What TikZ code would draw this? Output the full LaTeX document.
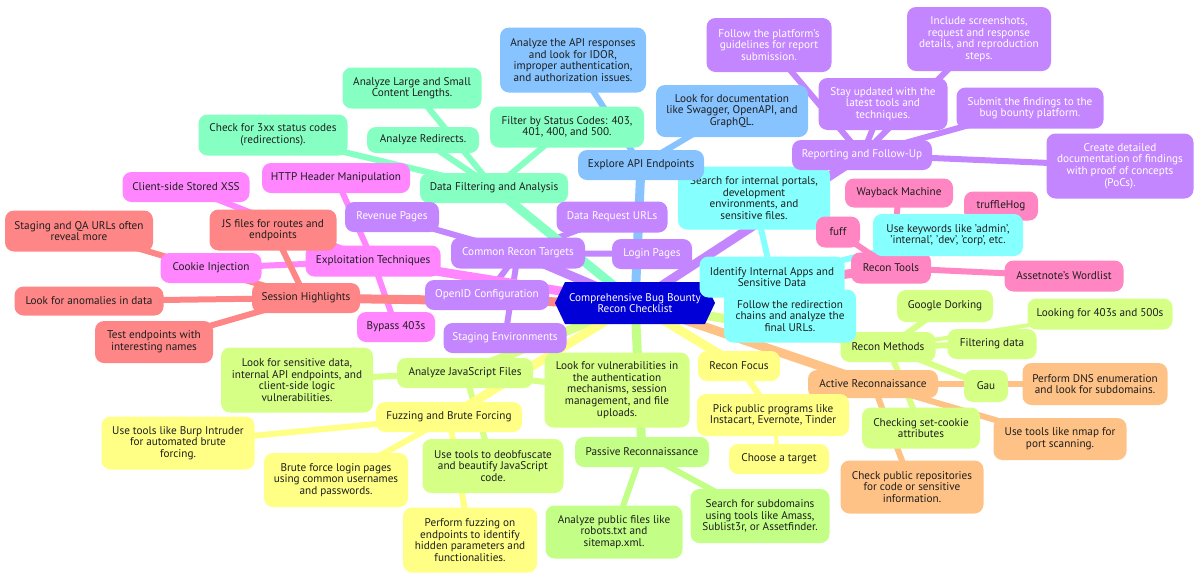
\documentclass[tikz,border=0pt]{standalone}
\usepackage{fontspec}
\setmainfont{PT Sans}
\usetikzlibrary{backgrounds}
\definecolor{cyel}{RGB}{255,255,134}
\definecolor{cyg}{RGB}{214,255,134}
\definecolor{cpur}{RGB}{195,134,255}
\definecolor{cmag}{RGB}{255,134,255}
\definecolor{cpink}{RGB}{255,134,195}
\definecolor{csal}{RGB}{255,134,134}
\definecolor{cora}{RGB}{255,194,134}
\definecolor{cgrn}{RGB}{195,255,134}
\definecolor{cmint}{RGB}{134,255,195}
\definecolor{ccyan}{RGB}{134,255,255}
\definecolor{cblue}{RGB}{134,195,255}
\definecolor{croot}{RGB}{0,0,215}
\definecolor{ctext}{RGB}{30,30,30}
\tikzset{
  box/.style={rounded corners=9pt, fill=#1, text=ctext, align=center, inner sep=2pt,
    font=\fontsize{11.2}{11.6}\selectfont},
  wbox/.style={box=#1, text=white},
  ezero/.style={draw=#1, line width=9pt},
  eone/.style={draw=#1, line width=6pt},
  etwo/.style={draw=#1, line width=4pt},
}
\begin{document}
\begin{tikzpicture}[x=1pt,y=-1pt]
\useasboundingbox (0,0) rectangle (1200,582);
% root
\fill[croot] (555,303) -- (565,282) -- (705,282) -- (715,303) -- (705,324) -- (565,324) -- cycle;
\node[text=white, align=center, font=\fontsize{11.2}{11.6}\selectfont] (root) at (635,303) {Comprehensive Bug Bounty\\Recon Checklist};

% Data filtering (mint)
\node[box=cmint, minimum width=148pt, minimum height=30pt] (df) at (494,188) {Data Filtering and Analysis};
\node[box=cmint, minimum width=139pt, minimum height=41pt] (df1) at (412,88) {Analyze Large and Small\\Content Lengths.};
\node[box=cmint, minimum width=112pt, minimum height=26pt] (df2) at (423,140) {Analyze Redirects.};
\node[box=cmint, minimum width=154pt, minimum height=41pt] (df3) at (567,127) {Filter by Status Codes: 403,\\401, 400, and 500.};
\node[box=cmint, minimum width=149pt, minimum height=41pt] (df4) at (273,135) {Check for 3xx status codes\\(redirections).};

% Identify internal apps (cyan) part 1
\node[box=ccyan, minimum width=152pt, minimum height=63pt] (ia1) at (754,198) {Search for internal portals,\\development\\environments, and\\sensitive files.};

% Explore API (blue)
\node[box=cblue, minimum width=126pt, minimum height=30pt] (api) at (641,165) {Explore API Endpoints};
\node[box=cblue, minimum width=146pt, minimum height=65pt] (api1) at (573,60) {Analyze the API responses\\and look for IDOR,\\improper authentication,\\and authorization issues.};
\node[box=cblue, minimum width=152pt, minimum height=52pt] (api2) at (732,111) {Look for documentation\\like Swagger, OpenAPI, and\\GraphQL.};

% Reporting (purple)
\node[wbox=cpur, minimum width=140pt, minimum height=30pt] (rep) at (862,155) {Reporting and Follow-Up};
\node[wbox=cpur, minimum width=125pt, minimum height=54pt] (rep1) at (769,45) {Follow the platform's\\guidelines for report\\submission.};
\node[wbox=cpur, minimum width=144pt, minimum height=64pt] (rep2) at (979,39) {Include screenshots,\\request and response\\details, and reproduction\\steps.};
\node[wbox=cpur, minimum width=129pt, minimum height=52pt] (rep3) at (883,104) {Stay updated with the\\latest tools and\\techniques.};
\node[wbox=cpur, minimum width=147pt, minimum height=41pt] (rep4) at (1030,108) {Submit the findings to the\\bug bounty platform.};
\node[wbox=cpur, minimum width=147pt, minimum height=65pt] (rep5) at (1120,166) {Create detailed\\documentation of findings\\with proof of concepts\\(PoCs).};

% Recon tools (pink)
\node[box=cpink, minimum width=80pt, minimum height=31pt] (rt) at (891,268) {Recon Tools};
\node[box=cpink, minimum width=108pt, minimum height=29pt] (rt1) at (899,193) {Wayback Machine};
\node[box=cpink, minimum width=44pt, minimum height=31pt] (rt2) at (838,232) {fuff};
\node[box=cpink, minimum width=74pt, minimum height=29pt] (rt3) at (1001,206) {truffleHog};
\node[box=cpink, minimum width=119pt, minimum height=31pt] (rt4) at (1064,276) {Assetnote's Wordlist};

% Identify internal apps (cyan)
\node[box=ccyan, minimum width=145pt, minimum height=41pt] (ia) at (772,277) {Identify Internal Apps and\\Sensitive Data};
\node[box=ccyan, minimum width=150pt, minimum height=42pt] (ia2) at (948,235) {Use keywords like 'admin',\\'internal', 'dev', 'corp', etc.};

% Recon methods (yellow green)
\node[box=cyg, minimum width=95pt, minimum height=30pt] (rm) at (888,347) {Recon Methods};
\node[box=cyg, minimum width=96pt, minimum height=32pt] (rm1) at (945,306) {Google Dorking};
\node[box=cyg, minimum width=89pt, minimum height=30pt] (rm2) at (992,344) {Filtering data};
\node[box=cyg, minimum width=145pt, minimum height=31pt] (rm3) at (1100,314) {Looking for 403s and 500s};
\node[box=cyg, minimum width=44pt, minimum height=32pt] (rm4) at (986,386) {Gau};
\node[box=cyg, minimum width=118pt, minimum height=41pt] (rm5) at (921,428) {Checking set-cookie\\attributes};

\node[box=ccyan, minimum width=132pt, minimum height=53pt] (ia3) at (790,316) {Follow the redirection\\chains and analyze the\\final URLs.};

% Active recon (orange)
\node[box=cora, minimum width=130pt, minimum height=28pt] (ar) at (873,384) {Active Reconnaissance};
\node[box=cora, minimum width=145pt, minimum height=42pt] (ar1) at (1095,384) {Perform DNS enumeration\\and look for subdomains.};
\node[box=cora, minimum width=133pt, minimum height=42pt] (ar2) at (1060,439) {Use tools like nmap for\\port scanning.};
\node[box=cora, minimum width=143pt, minimum height=53pt] (ar3) at (912,487) {Check public repositories\\for code or sensitive\\information.};

% Recon focus (yellow)
\node[box=cyel, minimum width=82pt, minimum height=30pt] (rf) at (739,366) {Recon Focus};
\node[box=cyel, minimum width=152pt, minimum height=42pt] (rf1) at (773,415) {Pick public programs like\\Instacart, Evernote, Tinder};
\node[box=cyel, minimum width=100pt, minimum height=30pt] (rf2) at (779,459) {Choose a target};

% Passive recon (green)
\node[box=cgrn, minimum width=134pt, minimum height=30pt] (pr) at (642,452) {Passive Reconnaissance};
\node[box=cgrn, minimum width=137pt, minimum height=53pt] (pr1) at (614,532) {Analyze public files like\\robots.txt and\\sitemap.xml.};
\node[box=cgrn, minimum width=139pt, minimum height=54pt] (pr2) at (760,516) {Search for subdomains\\using tools like Amass,\\Sublist3r, or Assetfinder.};

% Analyze JS (yellow green)
\node[box=cyg, minimum width=136pt, minimum height=30pt] (js) at (465,373) {Analyze JavaScript Files};
\node[box=cyg, minimum width=152pt, minimum height=65pt] (js1) at (297,380) {Look for sensitive data,\\internal API endpoints, and\\client-side logic\\vulnerabilities.};
\node[box=cyg, minimum width=141pt, minimum height=54pt] (js2) at (493,466) {Use tools to deobfuscate\\and beautify JavaScript\\code.};
\node[box=cyg, minimum width=145pt, minimum height=75pt] (js3) at (617,390) {Look for vulnerabilities in\\the authentication\\mechanisms, session\\management, and file\\uploads.};

% Fuzzing (yellow)
\node[box=cyel, minimum width=146pt, minimum height=30pt] (fz) at (449,417) {Fuzzing and Brute Forcing};
\node[box=cyel, minimum width=153pt, minimum height=53pt] (fz1) at (178,443) {Use tools like Burp Intruder\\for automated brute\\forcing.};
\node[box=cyel, minimum width=144pt, minimum height=54pt] (fz2) at (336,480) {Brute force login pages\\using common usernames\\and passwords.};
\node[box=cyel, minimum width=134pt, minimum height=65pt] (fz3) at (470,540) {Perform fuzzing on\\endpoints to identify\\hidden parameters and\\functionalities.};

% Common recon targets (purple)
\node[wbox=cpur, minimum width=134pt, minimum height=31pt] (crt) at (518,253) {Common Recon Targets};
\node[wbox=cpur, minimum width=94pt, minimum height=30pt] (crt1) at (392,217) {Revenue Pages};
\node[wbox=cpur, minimum width=111pt, minimum height=31pt] (crt2) at (612,217) {Data Request URLs};
\node[wbox=cpur, minimum width=80pt, minimum height=30pt] (crt3) at (652,254) {Login Pages};
\node[wbox=cpur, minimum width=124pt, minimum height=30pt] (crt4) at (487,295) {OpenID Configuration};
\node[wbox=cpur, minimum width=123pt, minimum height=30pt] (crt5) at (505,338) {Staging Environments};

% Exploitation (magenta)
\node[box=cmag, minimum width=135pt, minimum height=31pt] (ex) at (373,261) {Exploitation Techniques};
\node[box=cmag, minimum width=148pt, minimum height=30pt] (ex1) at (336,178) {HTTP Header Manipulation};
\node[box=cmag, minimum width=127pt, minimum height=30pt] (ex2) at (186,187) {Client-side Stored XSS};
\node[box=cmag, minimum width=101pt, minimum height=30pt] (ex3) at (211,268) {Cookie Injection};
\node[box=cmag, minimum width=78pt, minimum height=30pt] (ex4) at (396,327) {Bypass 403s};

% Session highlights (salmon)
\node[box=csal, minimum width=108pt, minimum height=30pt] (sh) at (306,298) {Session Highlights};
\node[box=csal, minimum width=127pt, minimum height=41pt] (sh1) at (273,230) {JS files for routes and\\endpoints};
\node[box=csal, minimum width=148pt, minimum height=41pt] (sh2) at (79,231) {Staging and QA URLs often\\reveal more};
\node[box=csal, minimum width=149pt, minimum height=29pt] (sh3) at (89,301) {Look for anomalies in data};
\node[box=csal, minimum width=118pt, minimum height=42pt] (sh4) at (154,342) {Test endpoints with\\interesting names};

\begin{scope}[on background layer]
\fill[white] (0,0) rectangle (1200,582);
% child edges
\foreach \c in {df1,df2,df3,df4} \draw[eone=cmint] (df.center) -- (\c.center);
\foreach \c in {api1,api2} \draw[eone=cblue] (api.center) -- (\c.center);
\foreach \c in {rep1,rep2,rep3,rep4,rep5} \draw[eone=cpur] (rep.center) -- (\c.center);
\foreach \c in {ia1,ia2,ia3} \draw[eone=ccyan] (ia.center) -- (\c.center);
\foreach \c in {rt1,rt2,rt3,rt4} \draw[eone=cpink] (rt.center) -- (\c.center);
\foreach \c in {rm1,rm2,rm4,rm5} \draw[eone=cyg] (rm.center) -- (\c.center);
\draw[etwo=cyg] (rm.center) -- (rm3.center);
\foreach \c in {ar1,ar2,ar3} \draw[eone=cora] (ar.center) -- (\c.center);
\draw[eone=cyel] (rf.center) -- (rf1.center);
\draw[etwo=cyel] (rf1.center) -- (rf2.center);
\foreach \c in {pr1,pr2} \draw[eone=cgrn] (pr.center) -- (\c.center);
\foreach \c in {js1,js2,js3} \draw[eone=cyg] (js.center) -- (\c.center);
\foreach \c in {fz1,fz2,fz3} \draw[eone=cyel] (fz.center) -- (\c.center);
\foreach \c in {crt1,crt2,crt3,crt4,crt5} \draw[eone=cpur] (crt.center) -- (\c.center);
\foreach \c in {ex1,ex2,ex3,ex4} \draw[eone=cmag] (ex.center) -- (\c.center);
\foreach \c in {sh1,sh2,sh3,sh4} \draw[eone=csal] (sh.center) -- (\c.center);
% root edges
\draw[ezero=cmint] (root.center) -- (df.center);
\draw[ezero=cblue] (root.center) -- (api.center);
\draw[ezero=cpur] (root.center) -- (rep.center);
\draw[ezero=ccyan] (root.center) -- (ia.center);
\draw[ezero=cpink] (root.center) -- (rt.center);
\draw[ezero=cyg] (root.center) -- (rm.center);
\draw[ezero=cora] (root.center) -- (ar.center);
\draw[ezero=cyel] (root.center) -- (rf.center);
\draw[ezero=cgrn] (root.center) -- (pr.center);
\draw[ezero=cyg] (root.center) -- (js.center);
\draw[ezero=cyel] (root.center) -- (fz.center);
\draw[ezero=cpur] (root.center) -- (crt.center);
\draw[ezero=cmag] (root.center) -- (ex.center);
\draw[ezero=csal] (root.center) -- (sh.center);
\end{scope}
\end{tikzpicture}
\end{document}
